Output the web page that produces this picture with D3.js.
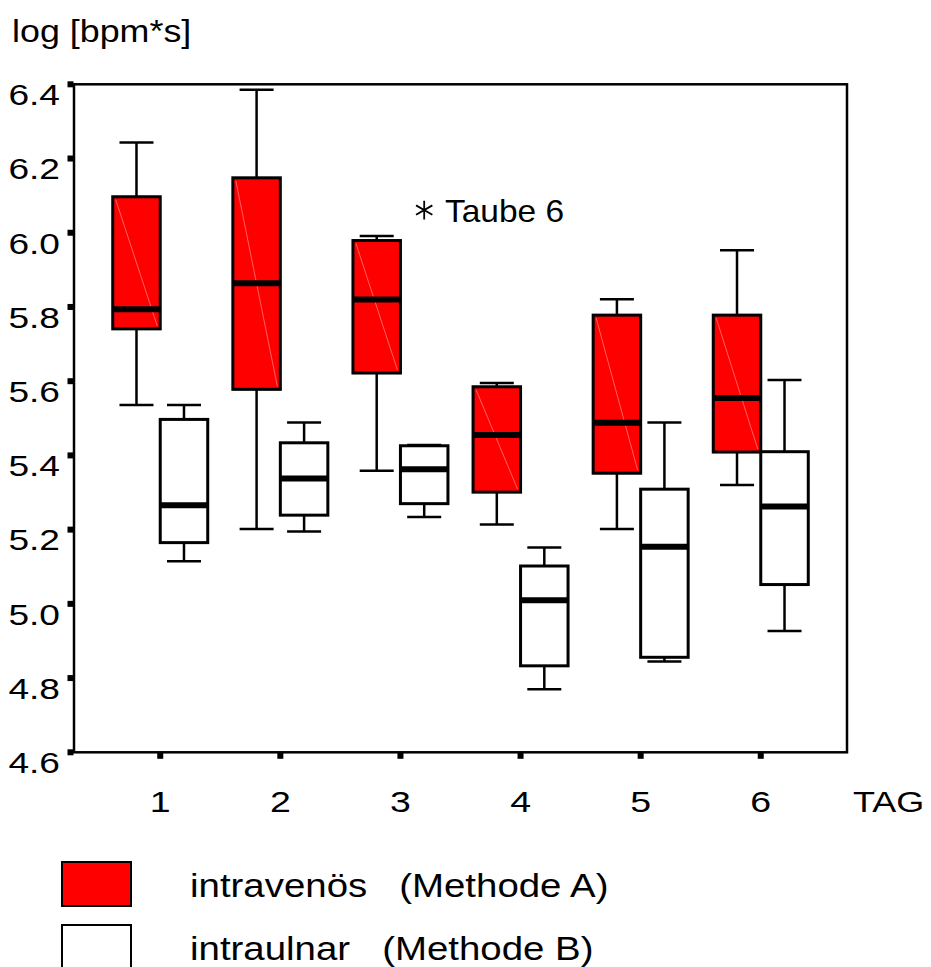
<!DOCTYPE html>
<html>
<head>
<meta charset="utf-8">
<script src="https://cdn.jsdelivr.net/npm/d3@7"></script>
<style>
  body { margin: 0; background: #fff; }
  text { font-family: "Liberation Sans", Arial, Helvetica, sans-serif; fill: #000; }
</style>
</head>
<body>
<div id="chart"></div>
<script>
// Days (TAG)
var days = ["1", "2", "3", "4", "5", "6"];
var yTicks = [4.6, 4.8, 5.0, 5.2, 5.4, 5.6, 5.8, 6.0, 6.2, 6.4];

// intravenös (Methode A)
var ivHigh   = [6.243, 6.385, 5.991, 5.595, 5.821, 5.953];
var ivQ3     = [6.097, 6.148, 5.979, 5.585, 5.778, 5.778];
var ivMedian = [5.794, 5.864, 5.820, 5.455, 5.488, 5.555];
var ivQ1     = [5.741, 5.578, 5.622, 5.301, 5.352, 5.409];
var ivLow    = [5.536, 5.202, 5.359, 5.214, 5.202, 5.320];

// intraulnar (Methode B)
var iuHigh   = [5.536, 5.489, 5.428, 5.152, 5.489, 5.603];
var iuQ3     = [5.497, 5.434, 5.426, 5.102, 5.309, 5.410];
var iuMedian = [5.266, 5.338, 5.363, 5.010, 5.154, 5.262];
var iuQ1     = [5.165, 5.239, 5.270, 4.833, 4.856, 5.052];
var iuLow    = [5.115, 5.195, 5.234, 4.770, 4.845, 4.927];

// extreme value
var outlierDay = "3", outlierValue = 6.061, outlierLabel = "Taube 6";

var W = 931, H = 967,
    margin = {top: 84.3, right: 84, bottom: 214.7, left: 74},
    boxW = 47.5,
    capW = 34;

var svg = d3.select("#chart").append("svg")
  .attr("width", W)
  .attr("height", H);

var x = d3.scalePoint()
  .domain(days)
  .range([margin.left, W - margin.right])
  .padding(0.718);

var y = d3.scaleLinear()
  .domain([4.6, 6.4])
  .range([H - margin.bottom, margin.top]);

// stretched text like the original scan
function label(g, px, py, str, size, sx, anchor) {
  return g.append("text")
    .attr("transform", "translate(" + px + "," + py + ") scale(" + sx + ",1)")
    .attr("font-size", size)
    .attr("text-anchor", anchor || "start")
    .attr("xml:space", "preserve")
    .text(str);
}

function series(q) {
  return days.map(function(d, i) {
    return {day: d, high: q[0][i], q3: q[1][i], median: q[2][i], q1: q[3][i], low: q[4][i]};
  });
}

function drawBoxes(data, offset, fill, diag) {
  var g = svg.append("g").selectAll("g")
    .data(data)
    .enter().append("g");

  var cx = function(d) { return x(d.day) + offset + boxW / 2; };

  g.append("line")
    .attr("x1", cx).attr("x2", cx)
    .attr("y1", function(d) { return y(d.high); })
    .attr("y2", function(d) { return y(d.low); })
    .attr("stroke", "#000").attr("stroke-width", 2.5);

  g.append("line")
    .attr("x1", function(d) { return cx(d) - capW / 2; })
    .attr("x2", function(d) { return cx(d) + capW / 2; })
    .attr("y1", function(d) { return y(d.high); })
    .attr("y2", function(d) { return y(d.high); })
    .attr("stroke", "#000").attr("stroke-width", 2.5);

  g.append("line")
    .attr("x1", function(d) { return cx(d) - capW / 2; })
    .attr("x2", function(d) { return cx(d) + capW / 2; })
    .attr("y1", function(d) { return y(d.low); })
    .attr("y2", function(d) { return y(d.low); })
    .attr("stroke", "#000").attr("stroke-width", 2.5);

  g.append("rect")
    .attr("x", function(d) { return x(d.day) + offset; })
    .attr("y", function(d) { return y(d.q3); })
    .attr("width", boxW)
    .attr("height", function(d) { return y(d.q1) - y(d.q3); })
    .attr("fill", fill)
    .attr("stroke", "#000").attr("stroke-width", 3);

  if (diag) {
    g.append("line")
      .attr("x1", function(d) { return x(d.day) + offset + 3; })
      .attr("x2", function(d) { return x(d.day) + offset + boxW - 3; })
      .attr("y1", function(d) { return y(d.q3) + 3; })
      .attr("y2", function(d) { return y(d.q1) - 3; })
      .attr("stroke", "#ff7a7a").attr("stroke-width", 0.8);
  }

  g.append("line")
    .attr("x1", function(d) { return x(d.day) + offset; })
    .attr("x2", function(d) { return x(d.day) + offset + boxW; })
    .attr("y1", function(d) { return y(d.median); })
    .attr("y2", function(d) { return y(d.median); })
    .attr("stroke", "#000").attr("stroke-width", 6);
}

drawBoxes(series([ivHigh, ivQ3, ivMedian, ivQ1, ivLow]), -boxW, "#ff0000", true);
drawBoxes(series([iuHigh, iuQ3, iuMedian, iuQ1, iuLow]), 0, "#ffffff", false);

// Frame
svg.append("rect")
  .attr("x", margin.left)
  .attr("y", margin.top)
  .attr("width", W - margin.right - margin.left)
  .attr("height", y(4.6) - margin.top)
  .attr("fill", "none")
  .attr("stroke", "#000").attr("stroke-width", 2.5);

// Axis ticks (small squares) and labels
var axes = svg.append("g");

axes.selectAll(".ytick")
  .data(yTicks)
  .enter().append("rect")
  .attr("class", "ytick")
  .attr("x", margin.left - 6.5)
  .attr("y", function(d) { return y(d) - 3; })
  .attr("width", 6).attr("height", 6)
  .attr("fill", "#000");

yTicks.forEach(function(t) {
  label(axes, 60, y(t) + 20.8, d3.format(".1f")(t), 29, 1.28, "end");
});

axes.selectAll(".xtick")
  .data(days)
  .enter().append("rect")
  .attr("class", "xtick")
  .attr("x", function(d) { return x(d) - 3; })
  .attr("y", y(4.6) + 0.5)
  .attr("width", 6).attr("height", 6)
  .attr("fill", "#000");

days.forEach(function(d) {
  label(axes, x(d), 812, d, 30, 1.25, "middle");
});

label(axes, 853, 812, "TAG", 30, 1.2, "start");
label(axes, 12, 42, "log [bpm*s]", 32, 1.12, "start");

// Outlier
var ox = x(outlierDay) + boxW / 2,
    oy = y(outlierValue);
svg.append("path")
  .attr("transform", "translate(" + ox + "," + oy + ")")
  .attr("d", d3.symbol(d3.symbolAsterisk, 250)())
  .attr("fill", "none")
  .attr("stroke", "#000").attr("stroke-width", 1.8);
label(svg, 445, oy + 12, outlierLabel, 31, 1.08, "start");

// Legend
var legendItems = [
  {fill: "#ff0000", text: "intravenös   (Methode A)", y: 862},
  {fill: "#ffffff", text: "intraulnar   (Methode B)", y: 925}
];
var legend = svg.append("g");
legendItems.forEach(function(d) {
  legend.append("rect")
    .attr("x", 62).attr("y", d.y)
    .attr("width", 69).attr("height", 44)
    .attr("fill", d.fill)
    .attr("stroke", "#000").attr("stroke-width", 2);
  label(legend, 190, d.y + 35, d.text, 34, 1.13, "start");
});
</script>
</body>
</html>
